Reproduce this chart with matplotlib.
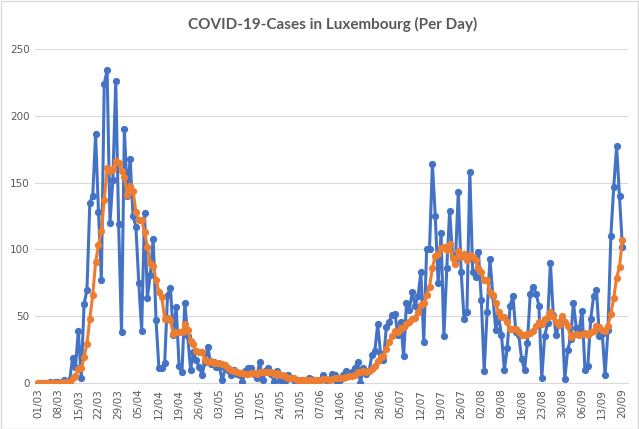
import numpy as np
import pandas as pd
import matplotlib
matplotlib.use("Agg")
import matplotlib.pyplot as plt
from matplotlib.patches import Rectangle

# daily new cases, 01/03 .. 20/09
cases = [
    0, 0, 0, 0, 1, 0, 1, 1, 0, 2, 0, 2,
    19, 12, 39, 4, 59, 70, 135, 140, 186,
    128, 77, 224, 234, 120, 152, 226, 119, 38, 190,
    140, 168, 125, 117, 75, 39, 127, 64, 81, 108,
    47, 11, 11, 15, 66, 71, 36, 57, 13, 8,
    60, 35, 10, 23, 17, 12, 6, 16, 27, 14,
    16, 12, 12, 2, 11, 10, 6, 10, 7, 6,
    1, 9, 11, 11, 7, 4, 16, 2, 9, 11,
    7, 1, 9, 2, 1, 2, 6, 4, 2, 1,
    0, 2, 2, 4, 3, 2, 1, 2, 6, 2,
    2, 7, 6, 1, 2, 6, 9, 7, 8, 11,
    16, 0, 11, 7, 9, 21, 24, 44, 22, 17,
    42, 46, 51, 52, 36, 46, 20, 60, 55, 68,
    58, 65, 83, 31, 100, 100, 164, 125, 75, 112,
    35, 86, 129, 95, 92, 143, 83, 48, 53, 158,
    83, 79, 98, 62, 9, 53, 93, 65, 40, 50,
    36, 10, 26, 58, 65, 38, 36, 18, 10, 30,
    67, 72, 67, 58, 4, 35, 45, 90, 51, 36,
    45, 48, 3, 25, 33, 60, 41, 40, 54, 10,
    13, 48, 65, 70, 35, 37, 6, 40, 110, 147,
    177, 140, 102,
]

# the orange smoothed line, also
avg = [
    0, 0, 0, 0, 0.1, 0.1, 0.3, 0.4, 0.4, 0.7, 0.7, 0.9, 3.6, 5.1,
    10.6, 11.1, 19.3, 29.3, 48.3, 65.6, 90.4,
    103.1, 113.6, 137.1, 160.6, 158.4, 160.1, 165.9, 164.6, 159.0, 154.1,
    140.7, 147.6, 143.7, 128.1, 121.9, 122.0, 113.0, 102.1, 89.7, 87.3,
    77.3, 68.1, 64.1, 48.1, 48.4, 47.0, 36.7, 38.1, 38.4, 38.0,
    44.4, 40.0, 31.3, 29.4, 23.7, 23.6, 23.3, 17.0, 15.9, 16.4,
    15.4, 14.7, 14.7, 14.1, 13.4, 11.0, 9.9, 9.0, 8.3, 7.4,
    7.3, 7.0, 7.1, 7.9, 7.4, 7.0, 8.4, 8.6, 8.6, 8.6,
    8.0, 7.1, 7.9, 5.9, 5.7, 4.7, 4.0, 3.6, 3.7, 2.6,
    2.3, 2.4, 2.4, 2.1, 2.0, 2.0, 2.0, 2.3, 2.9, 2.9,
    2.6, 3.1, 3.7, 3.7, 3.7, 3.7, 4.7, 5.4, 5.6, 6.3,
    8.4, 8.1, 8.9, 8.6, 8.9, 10.7, 12.6, 16.6, 19.7, 20.6,
    25.6, 30.9, 35.1, 39.1, 38.0, 41.4, 41.9, 44.4, 45.7, 48.1,
    49.0, 53.1, 58.4, 60.0, 65.7, 72.1, 85.9, 95.4, 96.9, 101.0,
    101.6, 99.6, 103.7, 93.9, 89.1, 98.9, 94.7, 96.6, 91.9, 96.0,
    94.3, 92.4, 86.0, 83.0, 77.4, 77.4, 68.1, 65.6, 60.0, 53.1,
    49.4, 49.6, 45.7, 40.7, 40.7, 40.4, 38.4, 35.9, 35.9, 36.4,
    37.7, 38.7, 42.9, 46.0, 44.0, 47.6, 49.7, 53.0, 50.0, 45.6,
    43.7, 50.0, 45.4, 42.6, 34.4, 35.7, 36.4, 35.7, 36.6, 37.6,
    35.9, 38.0, 38.7, 42.9, 42.1, 39.7, 39.1, 43.0, 51.9, 63.6,
    78.9, 87.0, 107.0,
]

dates = pd.date_range("2020-03-01", periods=len(cases), freq="D")
x = np.arange(len(cases))
tick_pos = x[::7]
tick_labels = [d.strftime("%d/%m") for d in dates[::7]]

blue = "#4472C4"
orange = "#ED7D31"
grey = "#595959"

fig = plt.figure(figsize=(6.39, 4.29), dpi=100)
ax = fig.add_axes([0.055, 0.107, 0.928, 0.779])

ax.plot(x, cases, color=blue, lw=2.2, marker="o", ms=4.2, zorder=3)
ax.plot(x, avg, color=orange, lw=2.2, marker="o", ms=4.2, zorder=4)

ax.set_xlim(-1, 205)
ax.set_ylim(0, 250)
ax.set_yticks(range(0, 251, 50))
ax.set_xticks(tick_pos)
ax.set_xticklabels(tick_labels, rotation=90)
ax.tick_params(axis="both", length=0, labelsize=7.5, labelcolor=grey, pad=4)
ax.yaxis.grid(True, color="#D9D9D9", lw=0.8)
ax.set_axisbelow(True)
for s in ["left", "right", "top"]:
    ax.spines[s].set_visible(False)
ax.spines["bottom"].set_color("#D9D9D9")

fig.suptitle("COVID-19-Cases in Luxembourg (Per Day)", x=0.52, y=0.961,
             fontsize=11, fontweight="bold", color=grey, family="Lato")

fig.patches.append(Rectangle((0.001, 0.001), 0.997, 0.997, transform=fig.transFigure,
                             fill=False, edgecolor="#D9D9D9", lw=1))

fig.savefig("out.png", dpi=100)
